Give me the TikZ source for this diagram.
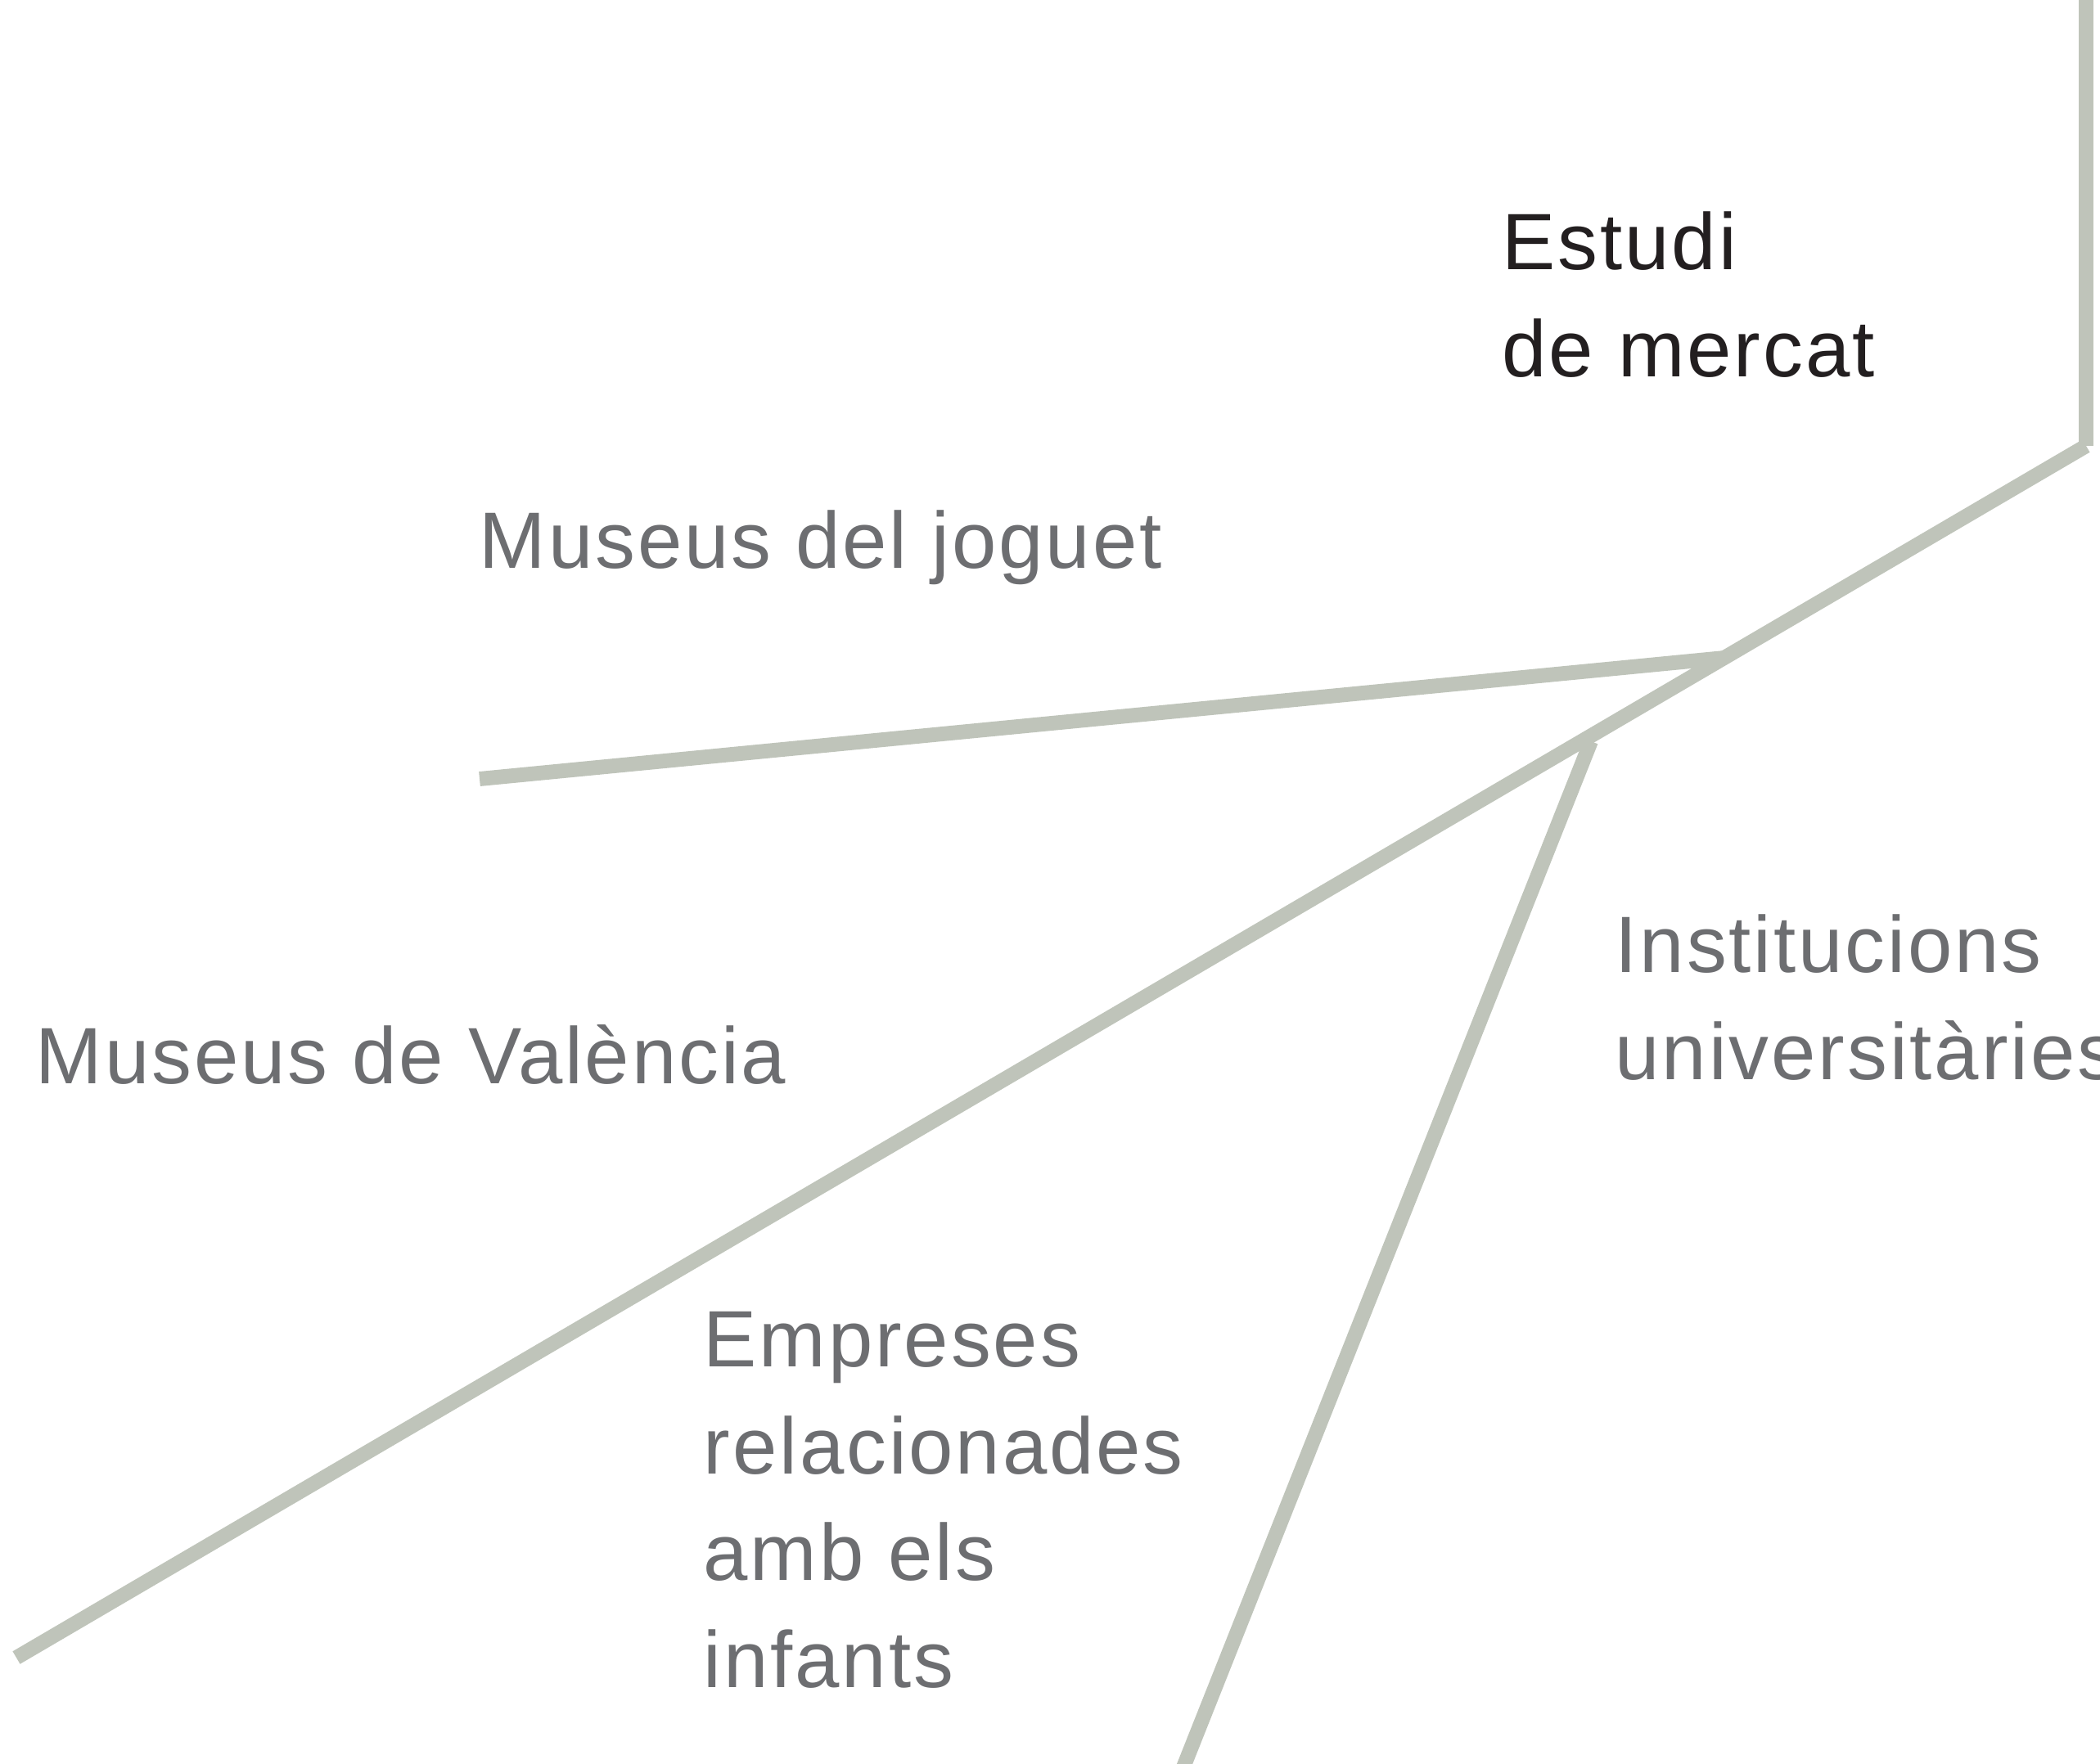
\documentclass[tikz,border=0pt]{standalone}
\usepackage{fontspec}
\setmainfont{Liberation Sans}[LetterSpace=3]
\usetikzlibrary{calc}
\usepackage{tkz-euclide}
\definecolor{LineClr}{RGB}{191,196,186}
\definecolor{LabelClr}{RGB}{109,110,113}
\definecolor{TitleClr}{RGB}{35,31,32}
\tikzset{lbl/.style={anchor=base west,inner sep=0pt,align=left,text=LabelClr,
  font=\fontsize{27.8}{37.1}\selectfont}}

\begin{document}
\begin{tikzpicture}
\useasboundingbox (0,0) rectangle (25.66,-21.55);

\tkzDefPoints{25.49/0.2/T,25.49/-5.45/B,0.20/-20.26/E}
\tkzDefPoint(21.07,-8.04){J}
\tkzDefPoint(5.86,-9.52){M}
\tkzDefPoint(19.44,-9.06){K}
\tkzDefPoint(14.40,-21.75){F}

\tkzDrawSegments[line width=5.1pt,line cap=butt,color=LineClr](T,B B,E J,M K,F)

% base anchor of a multi-line label sits on its last line
\node[lbl,text=TitleClr] (estudi) at (18.35,-4.60) {Estudi\\de mercat};
\node[lbl] (joguet) at (5.85,-6.94) {Museus del joguet};
\node[lbl] (valencia) at (0.43,-13.24) {Museus de València};
\node[lbl] (instit) at (19.73,-13.19) {Institucions\\universitàries};
\node[lbl] (empreses) at (8.59,-20.62) {Empreses\\relacionades\\amb els\\infants};

\end{tikzpicture}
\end{document}
